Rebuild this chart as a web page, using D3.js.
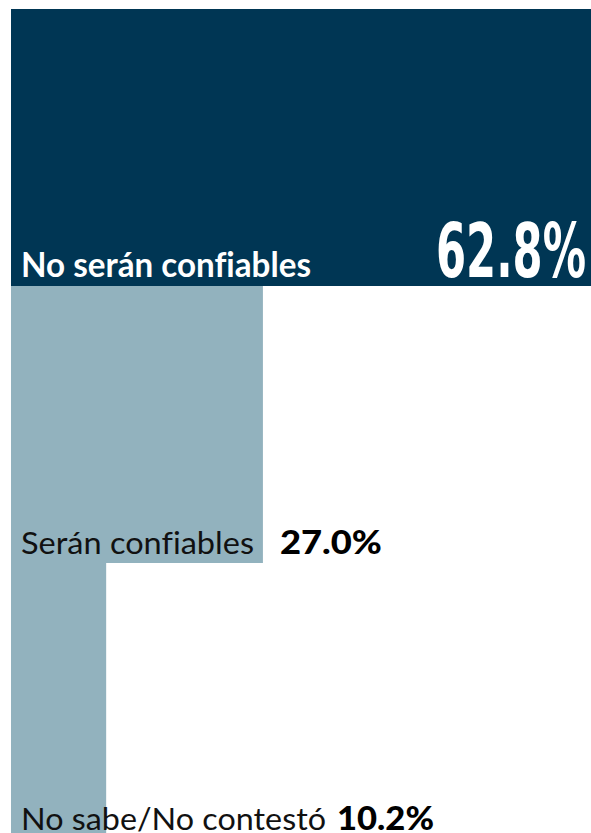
<!DOCTYPE html>
<html><head><meta charset="utf-8">
<script src="https://cdn.jsdelivr.net/npm/d3@7"></script>
<style>html,body{margin:0;padding:0;background:#fff;overflow:hidden}
text{font-variant-ligatures:none;font-feature-settings:"liga" 0}</style>
</head><body>
<svg id="c" width="591" height="833"></svg>
<script>
const categories = ["No serán confiables", "Serán confiables", "No sabe/No contestó"];
const values = [62.8, 27.0, 10.2];
const valueLabels = ["62.8%", "27.0%", "10.2%"];

const W = 591, H = 833;
const svg = d3.select("#c");
const x = d3.scaleLinear().domain([0, 10]).range([11, 104.3]);
const y = d3.scaleBand().domain(categories).range([9, 9 + 277 * 3]).padding(0);
const colors = ["#003654", "#92b2be", "#92b2be"];
const font = "Lato, 'Open Sans', sans-serif";

svg.selectAll("rect.bar").data(categories).join("rect")
  .attr("class", "bar")
  .attr("x", x(0))
  .attr("y", d => y(d))
  .attr("width", (d, i) => Math.min(x(values[i]), W) - x(0))
  .attr("height", y.bandwidth())
  .attr("fill", (d, i) => colors[i]);

const labelW = [290, 233, 305];
svg.selectAll("text.lab").data(categories).join("text")
  .attr("class", "lab")
  .attr("x", 21)
  .attr("y", (d, i) => y(d) + y.bandwidth() - (i === 2 ? 10 : 9))
  .attr("font-family", font)
  .attr("font-weight", (d, i) => i === 0 ? 700 : 400)
  .attr("font-size", (d, i) => i === 0 ? 33.5 : 31)
  .attr("fill", (d, i) => i === 0 ? "#fff" : "#111")
  .attr("textLength", (d, i) => labelW[i])
  .attr("lengthAdjust", "spacingAndGlyphs")
  .text(d => d);

// first value: condensed, large, right aligned inside bar
svg.append("text")
  .attr("x", 586)
  .attr("y", y(categories[0]) + y.bandwidth() - 9)
  .attr("text-anchor", "end")
  .attr("font-family", "'Liberation Sans Narrow', 'DejaVu Sans Condensed', sans-serif")
  .attr("font-weight", 700)
  .attr("font-size", 74)
  .attr("fill", "#fff")
  .attr("textLength", 150)
  .attr("lengthAdjust", "spacingAndGlyphs")
  .text(valueLabels[0]);

[1, 2].forEach(i => {
  const barEnd = x(values[i]);
  const labEnd = 21 + labelW[i];
  const vx = Math.max(barEnd + 17, labEnd + 11);
  svg.append("text")
    .attr("x", vx)
    .attr("y", y(categories[i]) + y.bandwidth() - (i === 2 ? 10 : 9))
    .attr("font-family", font)
    .attr("font-weight", 900)
    .attr("font-size", 33)
    .attr("fill", "#000")
    .attr("textLength", i === 1 ? 102 : 97)
    .attr("lengthAdjust", "spacingAndGlyphs")
    .text(valueLabels[i]);
});
</script>
</body></html>
